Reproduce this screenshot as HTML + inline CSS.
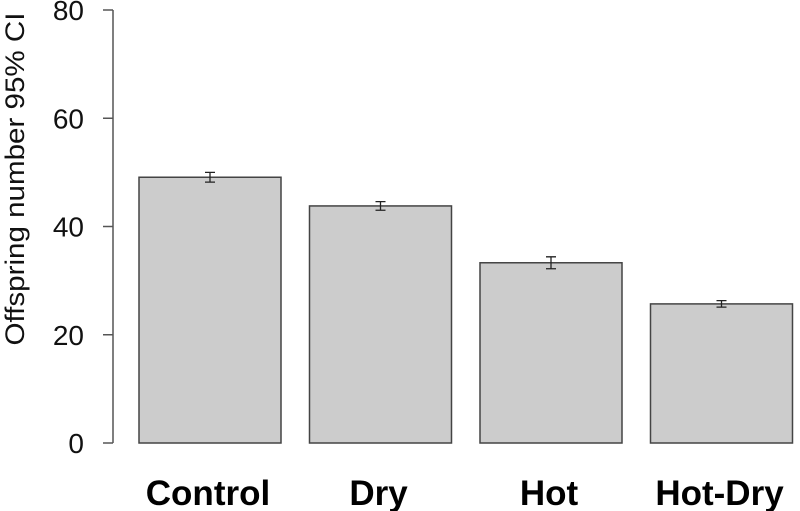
<!DOCTYPE html>
<html><head><meta charset="utf-8"><style>
body{margin:0;background:#fff;width:800px;height:511px;overflow:hidden}
svg{display:block}
text{font-family:"Liberation Sans",sans-serif}
</style></head><body>
<svg id="chart" width="800" height="511">
<g id="axis"></g>
<g id="bars"></g>
<text transform="translate(24,179) rotate(-90)" text-anchor="middle" font-size="27" textLength="333" lengthAdjust="spacingAndGlyphs" fill="#111">Offspring number 95% CI</text>
</svg>
<script>
const categories=["Control","Dry","Hot","Hot-Dry"];
const values=[49.1,43.8,33.3,25.7];
const ci=[0.9,0.8,1.1,0.6];
const ticks=[0,20,40,60,80];
const y=v=>443-v*(433/80);
const ns="http://www.w3.org/2000/svg";
const ax=document.getElementById('axis'),bg=document.getElementById('bars');
function mk(t,a,p){const e=document.createElementNS(ns,t);for(const k in a)e.setAttribute(k,a[k]);p.appendChild(e);return e;}
let l=mk('line',{x1:113,x2:113,y1:y(80),y2:y(0),stroke:'#555','stroke-width':1.5},ax);


ticks.forEach(t=>{
 const tl=mk('line',{x1:103,x2:113,y1:y(t),y2:y(t),stroke:'#555','stroke-width':1.5},ax);
 
 
 const tx=mk('text',{x:84,y:y(t)+10,'text-anchor':'end','font-size':28,fill:'#111'},ax);
 tx.textContent=t;
 
 
});
categories.forEach((c,i)=>{
 const x0=139+i*170.5,w=142,cx=x0+w/2;
 const r=mk('rect',{x:x0,y:y(values[i]),width:w,height:y(0)-y(values[i]),fill:'#cccccc',stroke:'#444','stroke-width':1.5},bg);
 
 
 const lo=y(values[i]-ci[i]),hi=y(values[i]+ci[i]);
 const e=mk('path',{d:`M${cx},${hi}V${lo}M${cx-5},${hi}H${cx+5}M${cx-5},${lo}H${cx+5}`,stroke:'#222','stroke-width':1.3,fill:'none'},bg);
 
 
 const t=mk('text',{x:cx-2,y:505,'text-anchor':'middle','font-size':35,'font-weight':'bold',fill:'#000'},bg);
 t.textContent=c;
 
 
});
</script>
</body></html>
